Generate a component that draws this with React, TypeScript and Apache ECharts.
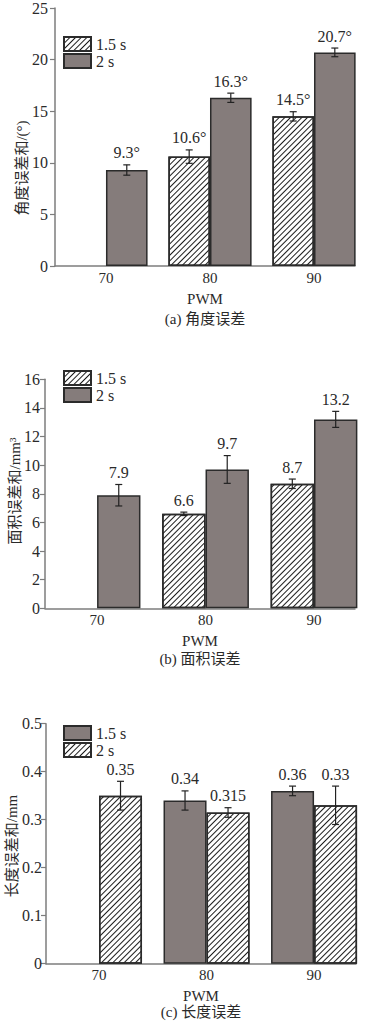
import React, { useEffect, useRef } from 'react';
import * as echarts from 'echarts';

// ---------- data ----------
const categories = [70, 80, 90];
const seriesNames = ['1.5 s', '2 s'];

const angle15 = [null, 10.6, 14.5];
const angle20 = [9.3, 16.3, 20.7];
const angleErr15 = [null, 0.65, 0.45];
const angleErr20 = [0.5, 0.45, 0.42];

const area15 = [null, 6.6, 8.7];
const area20 = [7.9, 9.7, 13.2];
const areaErr15 = [null, 0.12, 0.33];
const areaErr20 = [0.75, 0.97, 0.56];

const len15 = [null, 0.34, 0.36];
const len20 = [0.35, 0.315, 0.33];
const lenErr15 = [null, 0.02, 0.01];
const lenErr20 = [0.03, 0.01, 0.04];

// ---------- style ----------
const SERIF = "'Times New Roman', 'Liberation Serif', 'DejaVu Serif', serif";
const CJK = "'Times New Roman', 'Liberation Serif', 'Noto Sans CJK SC', serif";
const TEXT = '#2a2a2a';
const AXIS = '#7d7d7d';
const GRAY = '#857c7b';
const BORDER = '#2b2b2b';
const BAR_FRAC = 0.4;

const hatch = {
  symbol: 'rect',
  symbolSize: 1,
  dashArrayX: [1, 0],
  dashArrayY: [1, 3],
  rotation: -Math.PI / 4,
  color: '#1c1c1c',
  backgroundColor: '#ffffff',
};

const panels = [
  {
    key: 'a', v15: angle15, v20: angle20, e15: angleErr15, e20: angleErr20,
    hatchFirst: true, yMax: 25, yInterval: 5, unit: '°',
    yName: '角度误差和/(°)', caption: '(a) 角度误差',
    grid: { left: 55, top: 7, width: 300, height: 259 },
    xMin: 65.1, xMax: 93.94, labelMargin: 7, legendTop: 36,
    yNamePos: [22, 168], captionY: 319,
  },
  {
    key: 'b', v15: area15, v20: area20, e15: areaErr15, e20: areaErr20,
    hatchFirst: true, yMax: 16, yInterval: 2, unit: '',
    yName: '面积误差和/mm³', caption: '(b) 面积误差',
    grid: { left: 45, top: 379.3, width: 310, height: 229 },
    xMin: 65.2, xMax: 93.78, labelMargin: 5, legendTop: 370,
    yNamePos: [15, 491], captionY: 659,
  },
  {
    key: 'c', v15: len15, v20: len20, e15: lenErr15, e20: lenErr20,
    hatchFirst: false, yMax: 0.5, yInterval: 0.1, unit: '',
    yName: '长度误差和/mm', caption: '(c) 长度误差',
    grid: { left: 46, top: 723.7, width: 310, height: 240 },
    xMin: 65.07, xMax: 93.9, labelMargin: 4, legendTop: 725,
    yNamePos: [12, 846], captionY: 1012,
  },
];

function buildOption() {
  const grid: any[] = [];
  const xAxis: any[] = [];
  const yAxis: any[] = [];
  const series: any[] = [];
  const legend: any[] = [];
  const graphic: any[] = [];

  panels.forEach((p, i) => {
    grid.push({ ...p.grid, containLabel: false });
    xAxis.push({
      type: 'value', gridIndex: i, min: p.xMin, max: p.xMax,
      axisLine: { show: true, lineStyle: { color: AXIS, width: 1.5 } },
      axisTick: { show: false },
      splitLine: { show: false },
      axisLabel: {
        customValues: categories, margin: 4, color: TEXT,
        fontFamily: SERIF, fontSize: 15,
      },
      name: 'PWM', nameLocation: 'middle', nameGap: 25,
      nameTextStyle: { color: TEXT, fontFamily: SERIF, fontSize: 15 },
    });
    yAxis.push({
      type: 'value', gridIndex: i, min: 0, max: p.yMax, interval: p.yInterval,
      axisLine: { show: true, lineStyle: { color: AXIS, width: 1.5 } },
      axisTick: { show: true, length: 5, lineStyle: { color: AXIS, width: 1.2 } },
      splitLine: { show: false },
      axisLabel: { margin: p.labelMargin, color: TEXT, fontFamily: SERIF, fontSize: 16 },
    });

    const vals = [p.v15, p.v20];
    const errs = [p.e15, p.e20];
    const names = seriesNames.map((n) => p.key + ':' + n);
    names.forEach((name, s) => {
      const hatched = (s === 0) === p.hatchFirst;
      series.push({
        type: 'bar', name, xAxisIndex: i, yAxisIndex: i,
        barWidth: BAR_FRAC * 100 + '%', barGap: '0%',
        data: categories
          .map((c, j) => (vals[s][j] == null ? null : [c, vals[s][j]]))
          .filter((d) => d !== null),
        itemStyle: {
          color: hatched ? '#ffffff' : GRAY,
          borderColor: BORDER, borderWidth: 1.5,
          decal: hatched ? hatch : 'none',
        },
      });
      const rows = categories
        .map((c, j) => (vals[s][j] == null ? null : {
          value: [c, vals[s][j], errs[s][j] as number, s === 0 ? -1 : 1],
          label: String(vals[s][j]) + p.unit,
        }))
        .filter((d) => d !== null) as any[];
      series.push({
        type: 'custom', xAxisIndex: i, yAxisIndex: i, silent: true, z: 10,
        data: rows.map((r) => r.value),
        renderItem: (params: any, api: any) => {
          const x = api.value(0);
          const v = api.value(1);
          const e = api.value(2);
          const side = api.value(3);
          const band = api.size([10, 0])[0];
          const off = (side * band * BAR_FRAC) / 2;
          const top = api.coord([x, v + e]);
          const bot = api.coord([x, v - e]);
          const cx = top[0] + off;
          const cap = 3.5;
          const ls = { stroke: '#222', lineWidth: 1.2 };
          return {
            type: 'group',
            children: [
              { type: 'line', shape: { x1: cx, y1: top[1], x2: cx, y2: bot[1] }, style: ls },
              { type: 'line', shape: { x1: cx - cap, y1: top[1], x2: cx + cap, y2: top[1] }, style: ls },
              { type: 'line', shape: { x1: cx - cap, y1: bot[1], x2: cx + cap, y2: bot[1] }, style: ls },
              {
                type: 'text', x: cx, y: top[1] - 4,
                style: {
                  text: rows[params.dataIndex].label,
                  align: 'center', verticalAlign: 'bottom',
                  fill: TEXT, fontSize: 16, fontFamily: SERIF,
                },
              },
            ],
          };
        },
      });
    });

    legend.push({
      data: names, orient: 'vertical', left: 63, top: p.legendTop,
      itemWidth: 27, itemHeight: 14, itemGap: 1, padding: 0,
      icon: 'rect', selectedMode: false,
      formatter: (n: string) => n.split(':')[1],
      textStyle: { color: TEXT, fontFamily: SERIF, fontSize: 16 },
    });

    graphic.push({
      type: 'text', x: p.yNamePos[0], y: p.yNamePos[1], rotation: Math.PI / 2,
      style: {
        text: p.yName, align: 'center', verticalAlign: 'middle',
        fill: TEXT, fontSize: 15, fontFamily: CJK,
      },
    });
    graphic.push({
      type: 'text', x: p.grid.left + p.grid.width / 2, y: p.captionY,
      style: {
        text: p.caption, align: 'center', verticalAlign: 'middle',
        fill: TEXT, fontSize: 15, fontFamily: CJK,
      },
    });
  });

  return {
    animation: false,
    backgroundColor: '#ffffff',
    textStyle: { fontFamily: SERIF },
    grid, xAxis, yAxis, series, legend, graphic,
  };
}

export default function App() {
  const ref = useRef<HTMLDivElement>(null);
  useEffect(() => {
    if (!ref.current) return;
    const chart = echarts.init(ref.current, null, { renderer: 'svg' });
    chart.setOption(buildOption() as any);
    return () => chart.dispose();
  }, []);
  return (
    <div
      ref={ref}
      style={{ position: 'absolute', left: 0, top: 0, width: 370, height: 1024 }}
    />
  );
}
